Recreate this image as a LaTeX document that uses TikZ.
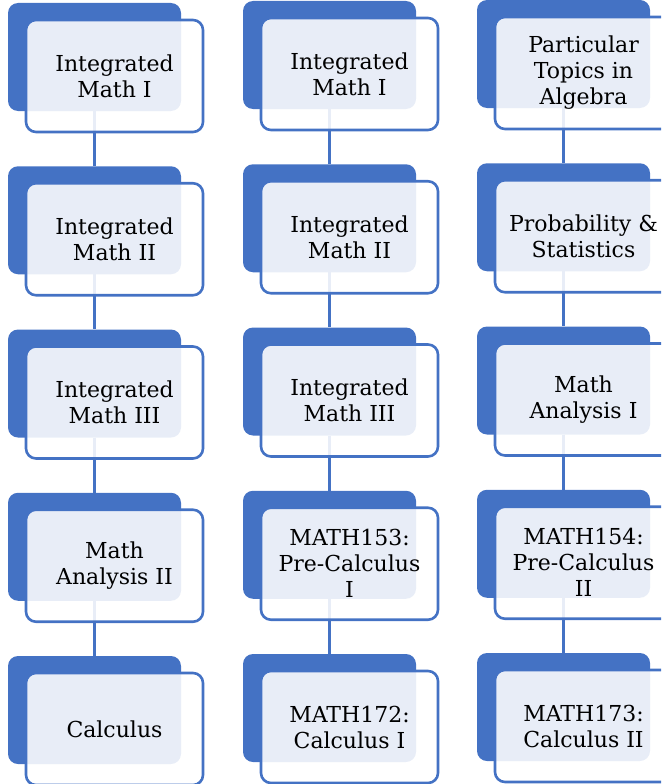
\documentclass[tikz,border=0pt]{standalone}
\usepackage{fontspec}
\setmainfont{DejaVu Serif}
\definecolor{acc}{HTML}{4472C4}
\begin{document}
\begin{tikzpicture}[x=1pt,y=-1pt,
  backbox/.style={fill=acc, rounded corners=10pt, minimum width=173pt, minimum height=108pt, inner sep=0pt},
  frontbox/.style={draw=acc, line width=2.6pt, fill=white, fill opacity=0.88, text opacity=1, rounded corners=10pt, minimum width=177pt, minimum height=112pt, align=center, font=\fontsize{22}{26}\selectfont, inner sep=0pt},
  link/.style={draw=acc, line width=3pt}]
\useasboundingbox (0,0) rectangle (661,784);
\clip (0,0) rectangle (661,784);
% back boxes
\foreach \r in {1,...,5}{
  \pgfmathsetmacro\ya{57+163.25*(\r-1)}
  \pgfmathsetmacro\yb{55+163.25*(\r-1)}
  \pgfmathsetmacro\yc{54+163.25*(\r-1)}
  \node[backbox] (a\r) at (94.5,\ya) {};
  \node[backbox] (b\r) at (329.5,\yb) {};
  \node[backbox] (c\r) at (563.5,\yc) {};
}
% connectors
\foreach \r/\s in {1/2,2/3,3/4,4/5}{
  \draw[link] (a\r.south) -- (a\s.north);
  \draw[link] (b\r.south) -- (b\s.north);
  \draw[link] (c\r.south) -- (c\s.north);
}
% front boxes, column 1
\node[frontbox] (fa1) at (114.5,76) {Integrated\\Math I};
\node[frontbox] (fa2) at (114.5,239.25) {Integrated\\Math II};
\node[frontbox] (fa3) at (114.5,402.5) {Integrated\\Math III};
\node[frontbox] (fa4) at (114.5,565.75) {Math\\Analysis II};
\node[frontbox] (fa5) at (114.5,729) {Calculus};
% column 2
\node[frontbox] (fb1) at (349.5,74) {Integrated\\Math I};
\node[frontbox] (fb2) at (349.5,237.25) {Integrated\\Math II};
\node[frontbox] (fb3) at (349.5,400.5) {Integrated\\Math III};
\node[frontbox] (fb4) at (349.5,563.75) {MATH153:\\Pre-Calculus\\I};
\node[frontbox] (fb5) at (349.5,727) {MATH172:\\Calculus I};
% column 3
\node[frontbox] (fc1) at (583.5,73) {Particular\\Topics in\\Algebra};
\node[frontbox] (fc2) at (583.5,236.25) {Probability \&\\Statistics};
\node[frontbox] (fc3) at (583.5,399.5) {Math\\Analysis I};
\node[frontbox] (fc4) at (583.5,562.75) {MATH154:\\Pre-Calculus\\II};
\node[frontbox] (fc5) at (583.5,726) {MATH173:\\Calculus II};
\end{tikzpicture}
\end{document}
